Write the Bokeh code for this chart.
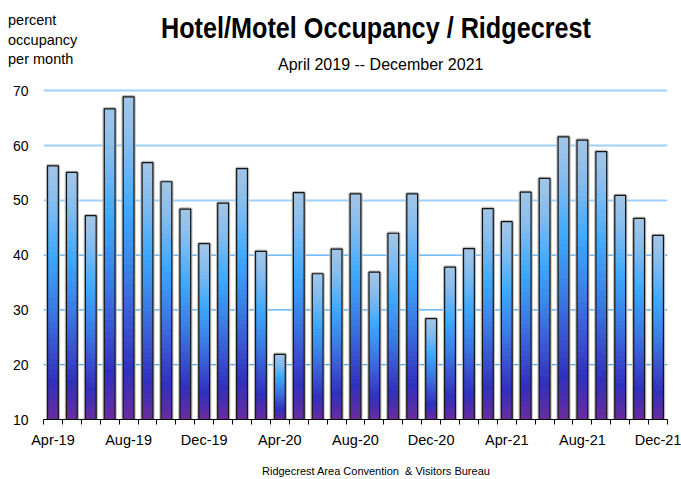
from bokeh.plotting import figure
from bokeh.models import FixedTicker, Range1d, Span, Div
from bokeh.layouts import column
from bokeh.embed import file_html
from bokeh.resources import INLINE

months = ["Apr-19", "May-19", "Jun-19", "Jul-19", "Aug-19", "Sep-19", "Oct-19", "Nov-19", "Dec-19",
          "Jan-20", "Feb-20", "Mar-20", "Apr-20", "May-20", "Jun-20", "Jul-20", "Aug-20", "Sep-20",
          "Oct-20", "Nov-20", "Dec-20", "Jan-21", "Feb-21", "Mar-21", "Apr-21", "May-21", "Jun-21",
          "Jul-21", "Aug-21", "Sep-21", "Oct-21", "Nov-21", "Dec-21"]
occupancy = [56.3, 55.1, 47.2, 66.7, 68.9, 56.9, 53.4, 48.4, 42.1,
             49.5, 55.8, 40.7, 21.9, 51.4, 36.6, 41.1, 51.2, 36.9,
             44.0, 51.2, 28.4, 37.8, 41.2, 48.5, 46.1, 51.5, 54.0,
             61.6, 61.0, 58.9, 50.9, 46.7, 43.6]
labelled_months = ["Apr-19", "Aug-19", "Dec-19", "Apr-20", "Aug-20", "Dec-20", "Apr-21", "Aug-21", "Dec-21"]
y_ticks = [10, 20, 30, 40, 50, 60, 70]
y_min, y_max = 10, 70.6

title_text = "Hotel/Motel Occupancy / Ridgecrest"
subtitle_text = "April 2019 -- December 2021"
ylabel_lines = ["percent", "occupancy", "per month"]
footer_text = "Ridgecrest Area Convention &nbsp;&amp; Visitors Bureau"

FONT = "Liberation Sans"

# gradient stops (0 = top of bar, 1 = bottom)
stops = [(0.0, (163, 198, 230)), (0.15, (132, 188, 238)), (0.35, (62, 169, 253)),
         (0.55, (59, 126, 230)), (0.72, (58, 80, 208)), (0.85, (48, 48, 190)),
         (1.0, (106, 44, 158))]


def grad(t):
    for (t0, c0), (t1, c1) in zip(stops[:-1], stops[1:]):
        if t0 <= t <= t1:
            f = (t - t0) / (t1 - t0)
            return "#%02x%02x%02x" % tuple(int(round(a + (b - a) * f)) for a, b in zip(c0, c1))
    return "#%02x%02x%02x" % stops[-1][1]


HEADER_H = 76
FOOTER_H = 20

# ---- header (title, subtitle, y caption) ----
header_html = (
    f'<div style="position:relative;width:681px;height:{HEADER_H}px;font-family:\'{FONT}\';color:black;">'
    f'<div style="position:absolute;left:8px;top:11px;font-size:14.5px;line-height:19.5px;white-space:nowrap;">'
    + "<br>".join(ylabel_lines) +
    '</div>'
    f'<div style="position:absolute;left:161px;top:13px;font-size:30px;line-height:30px;font-weight:bold;'
    f'white-space:nowrap;transform:scaleX(0.84);transform-origin:left top;">{title_text}</div>'
    f'<div style="position:absolute;left:278px;top:57px;font-size:16px;line-height:16px;white-space:nowrap;">{subtitle_text}</div>'
    '</div>'
)
header = Div(text=header_html, width=681, height=HEADER_H, margin=0)

footer_html = (
    f'<div style="position:relative;width:681px;height:{FOOTER_H}px;font-family:\'{FONT}\';color:black;">'
    f'<div style="position:absolute;left:262px;top:7px;font-size:11px;line-height:11px;white-space:nowrap;">{footer_text}</div>'
    '</div>'
)
footer = Div(text=footer_html, width=681, height=FOOTER_H, margin=0)

x = list(range(len(months)))
W = 0.57

p = figure(width=681, height=479 - HEADER_H - FOOTER_H, x_range=Range1d(-0.5, len(months) - 0.5),
           y_range=Range1d(y_min, y_max), output_backend="svg", toolbar_location=None,
           min_border_left=43, min_border_right=14, min_border_top=11, min_border_bottom=40,
           title=None, margin=0)
p.outline_line_color = None
p.xgrid.grid_line_color = None
p.background_fill_color = "white"

# grid lines: lighter upper ones (grid), bluer lower ones (spans)
p.ygrid.ticker = FixedTicker(ticks=[t for t in y_ticks if t >= 50])
p.ygrid.grid_line_color = "#9fd0fb"
p.ygrid.grid_line_width = 2
for t in y_ticks:
    if 10 < t < 50:
        p.add_layout(Span(location=t, dimension="width", line_color="#4aa8f5",
                          line_width=1.2, level="underlay"))

# halo / shadow
p.quad(left=[i - W / 2 for i in x], right=[i + W / 2 for i in x], bottom=10, top=occupancy,
       fill_color=None, line_color="#bcbcbc", line_width=3.5)

N = 50
L, R, B, T, C = [], [], [], [], []
for i, v in zip(x, occupancy):
    h = v - 10
    for k in range(N):
        t0, t1 = k / N, (k + 1) / N
        L.append(i - W / 2)
        R.append(i + W / 2)
        T.append(v - t0 * h)
        B.append(max(10, v - t1 * h - 0.25))
        C.append(grad((t0 + t1) / 2))
p.quad(left=L, right=R, bottom=B, top=T, fill_color=C, line_color=None)

p.quad(left=[i - W / 2 for i in x], right=[i + W / 2 for i in x], bottom=10, top=occupancy,
       fill_color=None, line_color="#151515", line_width=1.2)

# x axis
label_pos = [months.index(m) for m in labelled_months]
p.xaxis.ticker = FixedTicker(ticks=label_pos, minor_ticks=[i - 0.5 for i in range(len(months) + 1)])
p.xaxis.major_label_overrides = {i: months[i] for i in label_pos}
p.xaxis.major_tick_out = 0
p.xaxis.major_tick_in = 0
p.xaxis.minor_tick_out = 5
p.xaxis.minor_tick_in = 0
p.xaxis.minor_tick_line_color = "black"
p.xaxis.axis_line_color = "black"
p.xaxis.axis_line_width = 1
p.xaxis.major_label_standoff = 7
p.xaxis.major_label_text_font = FONT
p.xaxis.major_label_text_font_size = "14.5px"
p.xaxis.major_label_text_color = "black"

# y axis
p.yaxis.ticker = FixedTicker(ticks=y_ticks)
p.yaxis.axis_line_color = None
p.yaxis.major_tick_line_color = None
p.yaxis.major_tick_out = 0
p.yaxis.major_tick_in = 0
p.yaxis.minor_tick_line_color = None
p.yaxis.major_label_standoff = 15
p.yaxis.major_label_text_font = FONT
p.yaxis.major_label_text_font_size = "14px"
p.yaxis.major_label_text_color = "black"

layout = column(header, p, footer, spacing=0)
open("out.html", "w").write(file_html(layout, INLINE))
